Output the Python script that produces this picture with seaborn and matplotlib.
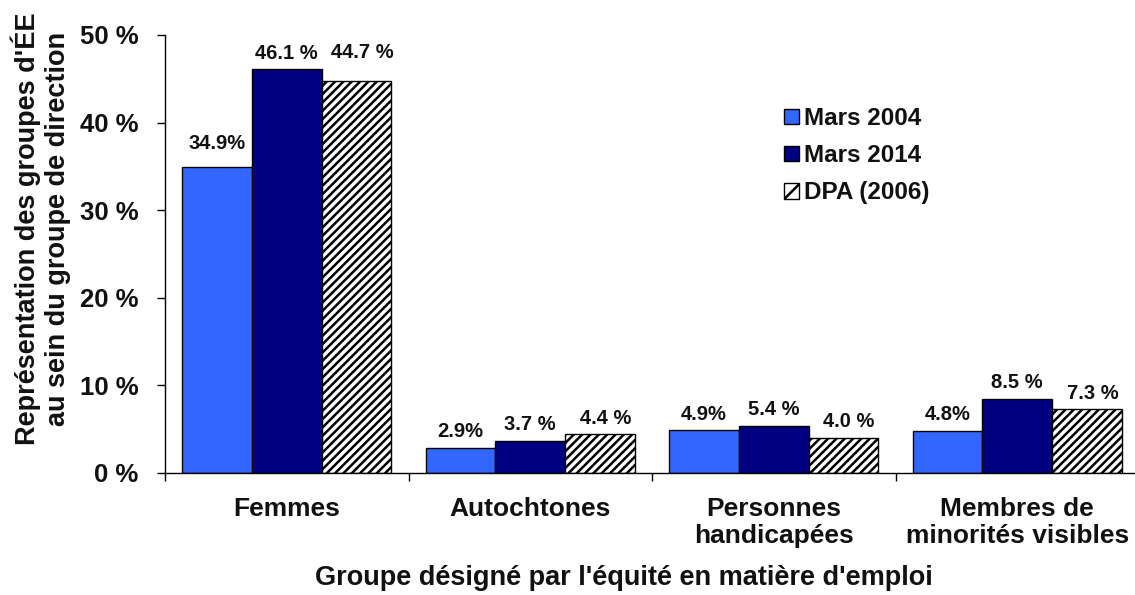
import matplotlib
matplotlib.use("Agg")
import matplotlib.pyplot as plt
import seaborn as sns
import pandas as pd

categories = ["Femmes", "Autochtones", "Personnes\nhandicapées", "Membres de\nminorités visibles"]
series = ["Mars 2004", "Mars 2014", "DPA (2006)"]
mars_2004 = [34.9, 2.9, 4.9, 4.8]
mars_2014 = [46.1, 3.7, 5.4, 8.5]
dpa_2006 = [44.7, 4.4, 4.0, 7.3]
labels_2004 = ["34.9%", "2.9%", "4.9%", "4.8%"]
labels_2014 = ["46.1 %", "3.7 %", "5.4 %", "8.5 %"]
labels_dpa = ["44.7 %", "4.4 %", "4.0 %", "7.3 %"]
y_ticks = [0, 10, 20, 30, 40, 50]
y_tick_labels = ["0 %", "10 %", "20 %", "30 %", "40 %", "50 %"]

values = [mars_2004, mars_2014, dpa_2006]
texts = [labels_2004, labels_2014, labels_dpa]

df = pd.DataFrame({
    "cat": [c for _ in series for c in categories],
    "serie": [s for s in series for _ in categories],
    "val": [v for vals in values for v in vals],
})

sns.set_theme(style="white")
plt.rcParams["font.family"] = ["Liberation Sans", "DejaVu Sans"]
plt.rcParams["font.weight"] = "bold"
plt.rcParams["hatch.linewidth"] = 1.8

W, H = 1135, 595
fig = plt.figure(figsize=(W / 100, H / 100), dpi=100)
ax = fig.add_axes([165 / W, (H - 473) / H, 974 / W, 438 / H])

colors = ["#3366FF", "#000080", "#FFFFFF"]
sns.barplot(data=df, x="cat", y="val", hue="serie", order=categories,
            hue_order=series, palette=colors, width=0.86, saturation=1,
            edgecolor="black", linewidth=1.0, ax=ax, legend=True)

for patch in ax.containers[2]:
    patch.set_hatch("////")

TXT = "#111111"

# data labels
extra = [[8, 0, 0, 0], [0, 0, 0, 0], [13, 0, 0, 0]]
for si, cont in enumerate(ax.containers):
    for ci, patch in enumerate(cont):
        x = patch.get_x() + patch.get_width() / 2
        y = patch.get_height()
        dx = 4 if si == 2 else 0
        ax.annotate(texts[si][ci], (x, y), xytext=(dx, 11.5 + extra[si][ci] * 0.72),
                    textcoords="offset points", ha="center", va="center",
                    fontsize=14.5, fontweight="bold", color=TXT)

ax.set_ylim(0, 50)
ax.set_xlim(-0.5, 3.5)
ax.set_yticks(y_ticks)
ax.set_yticklabels(y_tick_labels, fontsize=18.5, fontweight="bold", color=TXT)
ax.tick_params(axis="y", which="major", direction="out", length=6, width=1, color="black",
               left=True, pad=13)

ax.set_xticks(range(len(categories)))
ax.set_xticklabels(categories, fontsize=19, fontweight="bold", color=TXT,
                   linespacing=1.2, va="top")
ax.tick_params(axis="x", which="major", length=0, pad=17)
ax.set_xticks([-0.5, 0.5, 1.5, 2.5, 3.5], minor=True)
ax.tick_params(axis="x", which="minor", direction="out", length=6, width=1, color="black",
               bottom=True)

ax.set_xlabel("")
ax.set_ylabel("")
for s in ["top", "right"]:
    ax.spines[s].set_visible(False)
for s in ["left", "bottom"]:
    ax.spines[s].set_color("black")
    ax.spines[s].set_linewidth(1.0)
ax.grid(False)

fig.text(41 / W, (H - 229) / H,
         "Représentation des groupes d'ÉE\nau sein du groupe de direction",
         rotation=90, ha="center", va="center", fontsize=19.5, fontweight="bold",
         linespacing=1.22, color=TXT)
fig.text(624 / W, (H - 578) / H, "Groupe désigné par l'équité en matière d'emploi",
         ha="center", va="center", fontsize=19.5, fontweight="bold", color=TXT)

handles, labs = ax.get_legend_handles_labels()
leg = ax.legend(handles, labs, loc="upper left", bbox_to_anchor=(784 / W, (H - 107) / H),
                bbox_transform=fig.transFigure, frameon=False, fontsize=17.5,
                handlelength=0.62, handleheight=0.62, handletextpad=0.2,
                labelspacing=0.58, borderpad=0, borderaxespad=0)
for t in leg.get_texts():
    t.set_fontweight("bold")
    t.set_color(TXT)
leg.legend_handles[2].set_hatch("//")

fig.savefig("out.png", dpi=100)
